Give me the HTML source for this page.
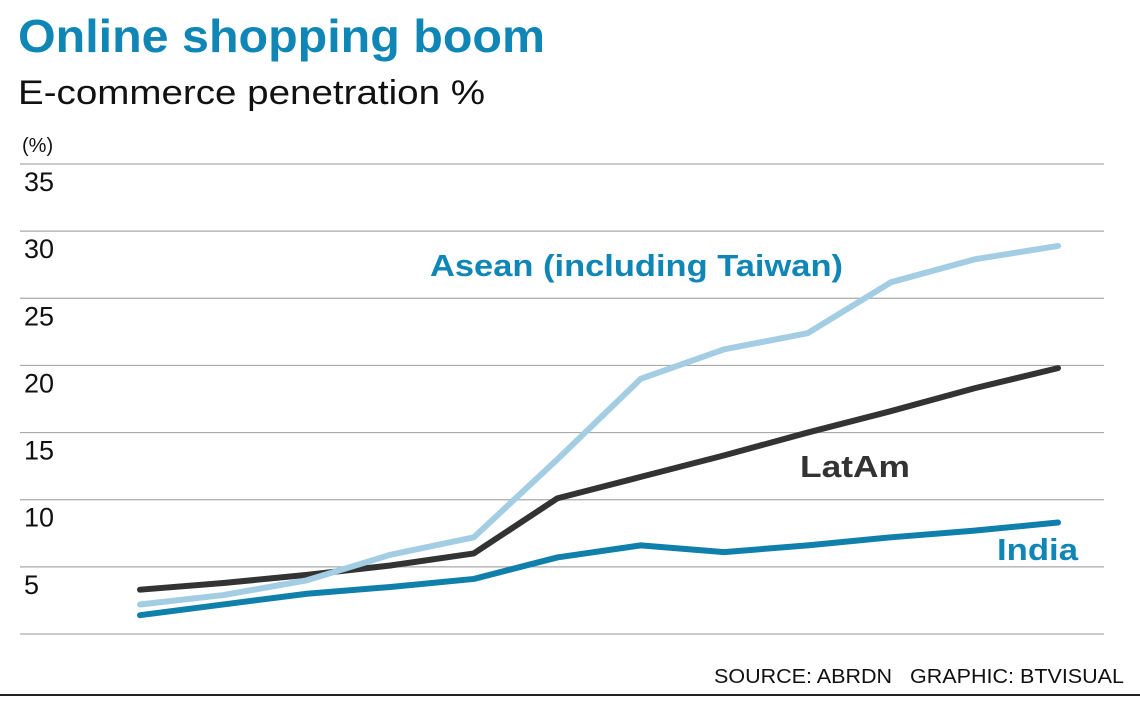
<!DOCTYPE html>
<html><head><meta charset="utf-8"><style>
body{margin:0;background:#fff;width:1140px;height:699px;overflow:hidden;font-family:"Liberation Sans",sans-serif}
</style></head><body>
<svg width="1140" height="699">
<text x="18" y="52" font-size="46" font-weight="bold" fill="#0f86b6" textLength="527" lengthAdjust="spacingAndGlyphs">Online shopping boom</text>
<text x="18" y="104" font-size="34" fill="#111" textLength="467" lengthAdjust="spacingAndGlyphs">E-commerce penetration %</text>
<text x="22" y="152" font-size="20" fill="#111">(%)</text>
<g id="grid"></g>
<g id="lines"></g>
<text x="430" y="276" font-size="31" font-weight="bold" fill="#0f86b6" textLength="413" lengthAdjust="spacingAndGlyphs">Asean (including Taiwan)</text>
<text x="800" y="477" font-size="31" font-weight="bold" fill="#333" textLength="110" lengthAdjust="spacingAndGlyphs">LatAm</text>
<text x="997" y="560" font-size="31" font-weight="bold" fill="#0f86b6" textLength="81" lengthAdjust="spacingAndGlyphs">India</text>
<text x="1124" y="683" font-size="20" fill="#111" text-anchor="end" textLength="410" lengthAdjust="spacingAndGlyphs">SOURCE: ABRDN&#160;&#160;&#160;GRAPHIC: BTVISUAL</text>
<line x1="0" y1="695" x2="1140" y2="695" stroke="#222" stroke-width="2"/>
</svg>
<script>
const ticks=[0,5,10,15,20,25,30,35];
const tickLabels=["","5","10","15","20","25","30","35"];
const asean=[2.2,2.9,4.0,5.9,7.2,13.0,19.0,21.2,22.4,26.2,27.9,28.9];
const latam=[3.3,3.8,4.4,5.1,6.0,10.1,11.7,13.3,15.0,16.6,18.3,19.8];
const india=[1.4,2.2,3.0,3.5,4.1,5.7,6.6,6.1,6.6,7.2,7.7,8.3];
const NS="http://www.w3.org/2000/svg";
function y(v){return 634-v*(470/35);}
function x(i){return 140+i*(918/11);}
const g=document.getElementById('grid');
ticks.forEach((t,k)=>{
  const l=document.createElementNS(NS,'line');
  
  
  l.setAttribute('x1',20);l.setAttribute('x2',1104);
  l.setAttribute('y1',y(t));l.setAttribute('y2',y(t));
  l.setAttribute('stroke','#aaa');l.setAttribute('stroke-width',1.2);
  g.appendChild(l);
  if(tickLabels[k]){
    const tx=document.createElementNS(NS,'text');
    
    
    tx.setAttribute('x',24);tx.setAttribute('y',y(t)+27);
    tx.setAttribute('font-size',27);tx.setAttribute('fill','#111');
    tx.textContent=tickLabels[k];g.appendChild(tx);
  }
});
const L=document.getElementById('lines');
[[latam,'#333','latam-line'],[asean,'#a3cde3','asean-line'],[india,'#0f7fac','india-line']].forEach(([d,c,n])=>{
  const p=document.createElementNS(NS,'polyline');
  
  
  p.setAttribute('points',d.map((v,i)=>x(i)+','+y(v)).join(' '));
  p.setAttribute('fill','none');p.setAttribute('stroke',c);
  p.setAttribute('stroke-width',6);p.setAttribute('stroke-linejoin','round');p.setAttribute('stroke-linecap','round');
  L.appendChild(p);
});
</script>
</body></html>
